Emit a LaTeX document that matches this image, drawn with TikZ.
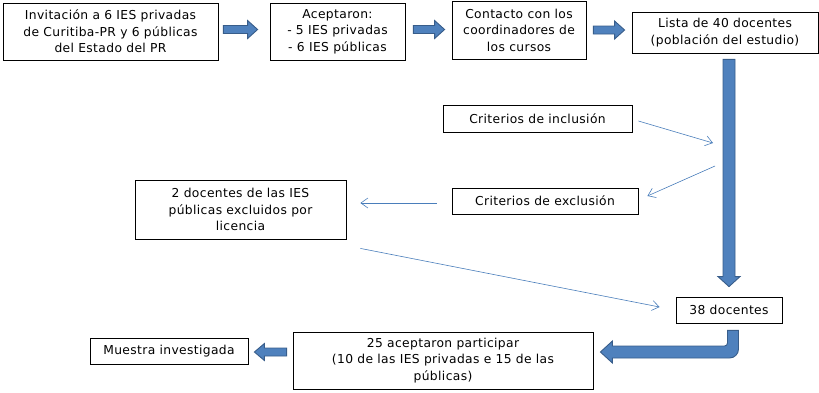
\documentclass[tikz,border=0pt]{standalone}
\usepackage{fontspec}
\setmainfont{DejaVu Sans}[LetterSpace=3]
\usetikzlibrary{calc,arrows.meta}
\definecolor{blkfill}{HTML}{4F81BD}
\definecolor{blkline}{HTML}{385D8A}
\definecolor{thin}{HTML}{4A7EBB}
\tikzset{
  box/.style={draw=black, line width=0.8pt, align=center, inner sep=0pt,
    font=\fontsize{12.3}{16.5}\selectfont},
  blk/.style={fill=blkfill, draw=blkline, line width=0.9pt, line join=miter},
  thinarrow/.style={draw=thin, line width=0.6pt, -{Straight Barb[length=7pt,width=10pt]}},
}
\newcommand\rblock[5]{%
  \filldraw[blk] let \p1=(#1), \p2=(#2) in
  (\x1,{\y1+#3}) -- ({\x2-#5},{\y1+#3}) -- ({\x2-#5},{\y1+#4}) -- (\x2,\y1)
  -- ({\x2-#5},{\y1-#4}) -- ({\x2-#5},{\y1-#3}) -- (\x1,{\y1-#3}) -- cycle;}
\newcommand\lblock[5]{%
  \filldraw[blk] let \p1=(#1), \p2=(#2) in
  (\x1,{\y1+#3}) -- ({\x2+#5},{\y1+#3}) -- ({\x2+#5},{\y1+#4}) -- (\x2,\y1)
  -- ({\x2+#5},{\y1-#4}) -- ({\x2+#5},{\y1-#3}) -- (\x1,{\y1-#3}) -- cycle;}
\newcommand\dblock[5]{%
  \filldraw[blk] let \p1=(#1), \p2=(#2) in
  ({\x1-#3},\y1) -- ({\x1-#3},{\y2+#5}) -- ({\x1-#4},{\y2+#5}) -- (\x1,\y2)
  -- ({\x1+#4},{\y2+#5}) -- ({\x1+#3},{\y2+#5}) -- ({\x1+#3},\y1) -- cycle;}
\begin{document}
\begin{tikzpicture}[x=1pt,y=-1pt]
\useasboundingbox (0,0) rectangle (819,392);
% boxes
\node[box, minimum width=215, minimum height=57] (n1) at (110.5,31.5)
  {Invitación a 6 IES privadas\\de Curitiba-PR y 6 públicas\\del Estado del PR};
\node[box, minimum width=135, minimum height=57] (n2) at (337.5,31.5)
  {Aceptaron:\\- 5 IES privadas\\- 6 IES públicas};
\node[box, minimum width=134, minimum height=58] (n3) at (519,30)
  {Contacto con los\\coordinadores de\\los cursos};
\node[box, minimum width=186, minimum height=41] (n4) at (725,32.5)
  {Lista de 40 docentes\\(población del estudio)};
\node[box, minimum width=189, minimum height=27] (inc) at (537.5,118.5)
  {Criterios de inclusión};
\node[box, minimum width=186, minimum height=26] (exc) at (545,201)
  {Criterios de exclusión};
\node[box, minimum width=211, minimum height=59] (exl) at (240.5,209.5)
  {2 docentes de las IES\\públicas excluidos por\\licencia};
\node[box, minimum width=106, minimum height=26] (n38) at (729,310)
  {38 docentes};
\node[box, minimum width=300, minimum height=57] (n25) at (443,360.5)
  {25 aceptaron participar\\(10 de las IES privadas e 15 de las\\públicas)};
\node[box, minimum width=158, minimum height=26] (mue) at (169,351)
  {Muestra investigada};
% block arrow end points
\coordinate (a1s) at ($(n1.east)+(5,-2)$);
\coordinate (a1e) at ($(n2.west)+(-12,-2)$);
\coordinate (a2s) at ($(n2.east)+(8,-2)$);
\coordinate (a2e) at ($(n3.west)+(-7,0)$);
\coordinate (a3s) at ($(n3.east)+(7,0)$);
\coordinate (a3e) at ($(n4.west)+(-7,0)$);
\coordinate (vs) at ($(n4.south)+(4,6)$);
\coordinate (ve) at ($(n38.north)+(0,-10)$);
\coordinate (bs) at ($(n38.south)+(4,7)$);
\coordinate (be) at ($(n25.east)+(7,-8.5)$);
\coordinate (ms) at ($(n25.west)+(-6,-8.5)$);
\coordinate (me) at ($(mue.east)+(6,1)$);
\rblock{a1s}{a1e}{4pt}{9pt}{10pt}
\rblock{a2s}{a2e}{4pt}{9pt}{10pt}
\rblock{a3s}{a3e}{4pt}{9pt}{10pt}
\dblock{vs}{ve}{6pt}{11pt}{10pt}
\lblock{ms}{me}{4pt}{8.5pt}{10pt}
% bent arrow
\filldraw[blk] let \p1=(bs), \p2=(be) in
  ({\x1+5.5pt},\y1) [rounded corners=9pt] -- ({\x1+5.5pt},{\y2-6pt}) [sharp corners]
  -- ({\x2+12pt},{\y2-6pt}) -- ({\x2+12pt},{\y2-11pt}) -- (\x2,\y2)
  -- ({\x2+12pt},{\y2+11pt}) -- ({\x2+12pt},{\y2+6pt}) [rounded corners=3pt]
  -- ({\x1-5.5pt},{\y2+6pt}) [sharp corners] -- ({\x1-5.5pt},\y1) -- cycle;
% thin arrows
\coordinate (ci) at (713,143);
\coordinate (ce) at (715,166);
\draw[thinarrow] ($(inc.east)+(6,2.5)$) -- (ci);
\draw[thinarrow] (ce) -- ($(exc.east)+(9,-5)$);
\draw[thinarrow] ($(exc.west)+(-15,2)$) -- ($(exl.east)+(14,-6.5)$);
\draw[thinarrow] ($(exl.south east)+(14,9)$) -- ($(n38.west)+(-16,-3)$);
\end{tikzpicture}
\end{document}
